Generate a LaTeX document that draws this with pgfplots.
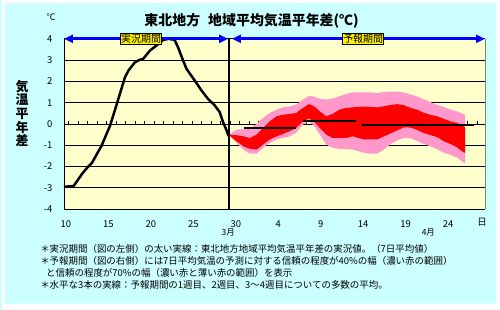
\documentclass[border=0pt]{standalone}
\usepackage{fontspec}
\setmainfont{Noto Sans CJK JP}
\usepackage{xcolor}
\usepackage{pgfplots}
\usepackage{pgfplotstable}
\pgfplotsset{compat=1.18}
\usepgfplotslibrary{fillbetween}
\usetikzlibrary{arrows.meta}

\definecolor{bgcyan}{HTML}{CCFFFF}
\definecolor{plotyel}{HTML}{FFFFCC}
\definecolor{bandpink}{HTML}{FF99CC}
\definecolor{bandred}{HTML}{FF0000}
\definecolor{arrblue}{HTML}{0000FF}

% day index: Mar 10 = 10 ... Mar 31 = 31, Apr 1 = 32
% forecast bands: pu/pl = 70% range, ru/rl = 40% range
\pgfplotstableread{
d     pu     ru     rl     pl
29.2  -0.50  -0.50  -0.52  -0.55
30.1  -0.27  -0.53  -0.81  -0.89
30.9  -0.24  -0.58  -1.05  -1.20
31.65 -0.21  -0.66  -1.17  -1.40
32.45  0.00  -0.50  -1.20  -1.40
33.2   0.28  -0.19  -0.97  -1.12
34.0   0.51   0.12  -0.73  -0.89
34.8   0.67   0.36  -0.58  -0.73
35.55  0.78   0.43  -0.47  -0.66
36.35  0.82   0.47  -0.34  -0.58
37.1   0.90   0.51  -0.19  -0.42
37.9   1.14   0.75   0.12  -0.03
38.6   1.32   0.93   0.26   0.12
39.2   1.29   0.84   0.12  -0.08
39.9   1.18   0.59  -0.19  -0.50
40.65  1.15   0.36  -0.50  -0.97
41.4   1.20   0.47  -0.66  -1.12
42.2   1.30   0.67  -0.66  -1.17
43.0   1.41   0.75  -0.66  -1.17
43.75  1.48   0.78  -0.58  -1.20
45.1   1.49   0.82  -0.73  -1.36
45.9   1.48   0.80  -0.73  -1.40
46.65  1.45   0.78  -0.73  -1.40
47.45  1.50   0.83  -0.58  -1.20
48.2   1.52   0.89  -0.45  -0.95
49.0   1.52   0.93  -0.30  -0.77
49.8   1.48   0.88  -0.16  -0.66
50.6   1.38   0.75  -0.17  -0.68
51.35  1.29   0.67  -0.28  -0.80
52.1   1.16   0.53  -0.42  -0.94
52.9   1.03   0.43  -0.52  -1.05
53.7   0.90   0.36  -0.62  -1.18
54.5   0.79   0.24  -0.81  -1.36
55.3   0.67   0.12  -0.95  -1.45
56.05  0.59   0.05  -1.10  -1.58
56.6   0.50  -0.06  -1.28  -1.75
57.0   0.43  -0.16  -1.36  -1.86
}\bands

% observed 7-day mean anomaly
\pgfplotstableread{
d     v
9.77  -2.95
10.9  -2.92
11.9  -2.35
12.5  -2.06
13.05 -1.84
14.2  -1.02
15.2  -0.08
16.0   0.95
16.95  2.19
17.35  2.50
18.1   2.89
18.6   3.00
19.1   3.06
19.9   3.45
20.9   3.76
21.45  3.95
22.1   4.00
22.8   3.95
23.2   3.60
23.8   2.98
24.2   2.59
25.15  2.05
25.95  1.58
26.7   1.19
27.5   0.88
28.1   0.56
28.5   0.09
28.9  -0.29
29.15 -0.57
}\obs

\begin{document}
\pagecolor{bgcyan}
\begin{tikzpicture}
% thin white margin round the cyan panel
\fill[white, even odd rule] (0,0) rectangle (500pt,311pt) (3pt,6pt) rectangle (496pt,308pt);

\begin{axis}[
    at={(62pt,101pt)}, anchor=south west,
    width=423pt, height=171pt, scale only axis,
    set layers,
    xmin=9.77, xmax=59.35, ymin=-4, ymax=4,
    axis background/.style={fill=plotyel},
    axis x line*=bottom, axis y line*=left,
    axis line style={black, line width=0.8pt, -},
    xtick={10,15,20,25,30,35,40,45,50,55},
    xticklabels={10,15,20,25,30,4,9,14,19,24},
    ytick={-4,-3,-2,-1,0,1,2,3,4},
    yticklabels={-4,-3,-2,-1,0,1,2,3,4},
    ymajorgrids, grid style={black, line width=0.8pt},
    major tick length=0pt,
    tick label style={font=\fontsize{9.5}{10}\selectfont},
    yticklabel style={xshift=-8pt},
    xticklabel style={yshift=-8pt},
    clip=false,
]
% small ticks on the zero line
\addplot[black, line width=0.8pt, ycomb, mark=none, on layer=pre main] coordinates {
 (10.32,0.14)(11.44,0.14)(12.56,0.14)(13.67,0.14)(14.79,0.14)(15.91,0.14)
 (17.03,0.14)(18.15,0.14)(19.26,0.14)(20.38,0.14)(21.50,0.14)(22.62,0.14)
 (23.74,0.14)(24.85,0.14)(25.97,0.14)(27.09,0.14)(28.21,0.14)(29.33,0.14)
 (30.44,0.14)(31.56,0.14)(32.68,0.14)(33.80,0.14)(34.92,0.14)(36.03,0.14)
 (37.15,0.14)(38.27,0.14)(39.39,0.14)(40.51,0.14)(41.62,0.14)(42.74,0.14)
 (43.86,0.14)(44.98,0.14)(46.10,0.14)(47.21,0.14)(48.33,0.14)(49.45,0.14)
 (50.57,0.14)(51.69,0.14)(52.80,0.14)(53.92,0.14)(55.04,0.14)(56.16,0.14)
 (57.28,0.14)(58.39,0.14)};

\addplot[draw=none, name path=pu] table[x=d, y=pu] {\bands};
\addplot[draw=none, name path=pl] table[x=d, y=pl] {\bands};
\addplot[bandpink] fill between[of=pu and pl];
\addplot[draw=none, name path=ru] table[x=d, y=ru] {\bands};
\addplot[draw=none, name path=rl] table[x=d, y=rl] {\bands};
\addplot[bandred] fill between[of=ru and rl];

% weekly means
\addplot[black, line width=2pt] coordinates {(31.0,-0.17)(37.05,-0.17)};
\addplot[black, line width=2pt] coordinates {(37.9,0.12)(44.1,0.12)};
\addplot[black, line width=2pt] coordinates {(44.85,-0.03)(58.0,-0.03)};

% separator between observed and forecast
\addplot[black, line width=2pt] coordinates {(29.2,-4)(29.2,4)};

\addplot[black, line width=2.5pt, line join=round] table[x=d, y=v] {\obs};

\draw[gray, line width=1pt] (rel axis cs:1,0) -- (rel axis cs:1,1);

\draw[arrblue, line width=3pt, {Triangle[length=9pt,width=8pt]}-{Triangle[length=9pt,width=8pt]}]
    (axis cs:9.77,4) -- (axis cs:29.1,4);
\draw[arrblue, line width=3pt, {Triangle[length=9pt,width=8pt]}-{Triangle[length=9pt,width=8pt]}]
    (axis cs:29.55,4) -- (axis cs:59.35,4);
\node[fill=yellow, draw=black, line width=0.6pt, inner sep=0.6pt, text height=8.3pt, text depth=1.5pt,
      font=\fontsize{10}{10}\selectfont] at (axis cs:18.85,4) {実況期間};
\node[fill=yellow, draw=black, line width=0.6pt, inner sep=0.6pt, text height=8.3pt, text depth=1.5pt,
      font=\fontsize{10}{10}\selectfont] at (axis cs:45.0,4) {予報期間};
\end{axis}

\node[font=\fontsize{14}{14}\selectfont\bfseries] at (250.5pt,290pt)
    {東北地方\hspace{8pt}地域平均気温平年差(℃)};
\node[font=\fontsize{9}{9}\selectfont] at (49pt,294pt) {℃};
\node[font=\fontsize{13}{13.7}\selectfont\bfseries, align=center, inner sep=0pt] at (20pt,197pt)
    {気\\温\\平\\年\\差};
\node[font=\fontsize{9.5}{10}\selectfont] at (482pt,88pt) {日};
\node[font=\fontsize{8.5}{9}\selectfont] at (227pt,77pt) {3月};
\node[font=\fontsize{8.5}{9}\selectfont] at (428pt,77pt) {4月};

\node[anchor=base west, inner sep=0pt, align=left, font=\fontsize{9.5}{12}\selectfont] at (38pt,21pt)
    {＊実況期間（図の左側）の太い実線：東北地方地域平均気温平年差の実況値。（7日平均値）\\
     ＊予報期間（図の右側）には7日平均気温の予測に対する信頼の程度が40\%の幅（濃い赤の範囲）\\
     \hspace{6pt}と信頼の程度が70\%の幅（濃い赤と薄い赤の範囲）を表示\\
     ＊水平な3本の実線：予報期間の1週目、2週目、3～4週目についての多数の平均。};

\pgfresetboundingbox
\path[use as bounding box] (0,0) rectangle (500pt,311pt);
\end{tikzpicture}
\end{document}
